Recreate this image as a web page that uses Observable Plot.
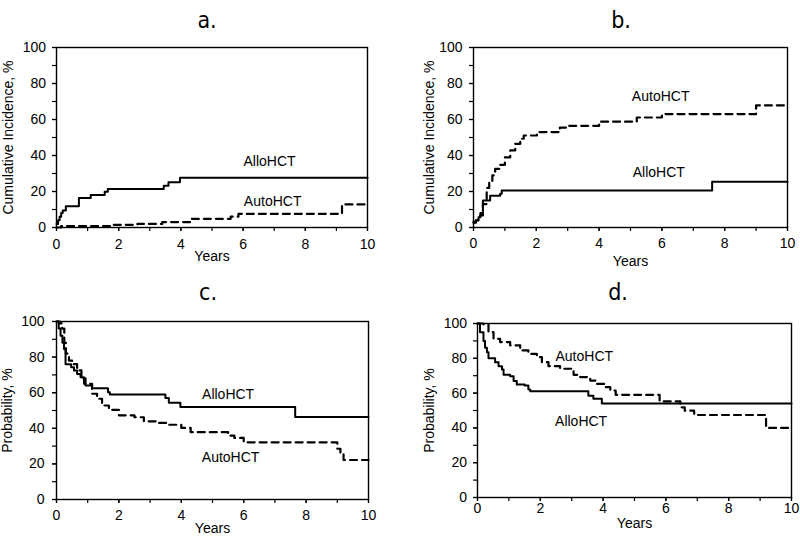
<!DOCTYPE html>
<html><head><meta charset="utf-8">
<script src="https://cdn.jsdelivr.net/npm/d3@7"></script>
<script src="https://cdn.jsdelivr.net/npm/@observablehq/plot@0.6"></script>
<style>
body{margin:0;background:#fff;}
#wrap{position:relative;width:800px;height:538px;overflow:hidden;background:#fff;}
.panel{position:absolute;}
.ttl{position:absolute;font-family:"Liberation Sans Narrow","DejaVu Sans Condensed","Liberation Sans",sans-serif;font-size:23px;color:#000;transform:translate(-50%,-50%);line-height:1;}
</style></head><body><div id="wrap"></div>
<script>
// ---- tick labels ----
const xTickLabels = [0, 2, 4, 6, 8, 10];
const xMinorTicks = [0, 1, 2, 3, 4, 5, 6, 7, 8, 9, 10];
const yTickLabels = [0, 20, 40, 60, 80, 100];
const yMinorTicks = [0, 10, 20, 30, 40, 50, 60, 70, 80, 90, 100];
const panelTitles = ["a.", "b.", "c.", "d."];
const seriesNames = ["AlloHCT", "AutoHCT"];

// ---- panel a: cumulative incidence ----
const aAlloT = [0, 0.05, 0.1, 0.15, 0.2, 0.3, 0.72, 1.1, 1.55, 1.65, 3.45, 3.6, 3.97, 10];
const aAlloV = [2, 4, 6, 8, 9.5, 11.8, 16.4, 18.1, 19.8, 21.4, 23.2, 25.1, 27.6, 27.6];
const aAutoT = [0, 0.15, 1.75, 2.6, 3.4, 4.3, 5.6, 5.85, 9.18, 10];
const aAutoV = [0, 0.8, 1.5, 2, 3, 4.8, 6, 7.6, 12.8, 12.8];

// ---- panel b: cumulative incidence ----
const bAlloT = [0, 0.08, 0.16, 0.22, 0.3, 0.53, 0.85, 0.9, 7.6, 10];
const bAlloV = [2.6, 4, 5.7, 8, 15, 17.6, 18.8, 20.6, 25.4, 25.4];
const bAutoT = [0, 0.07, 0.15, 0.21, 0.3, 0.42, 0.5, 0.6, 0.69, 0.85, 1.0, 1.17, 1.33, 1.49, 1.6, 2.02, 2.75, 3.0, 4.0, 5.2, 6.0, 9.0, 10];
const bAutoV = [3, 3.9, 5, 6.7, 13, 22, 25, 29, 32.6, 34.8, 39, 42.8, 46.5, 49.3, 51.1, 53, 55.5, 56.5, 58.8, 61.1, 63, 67.8, 67.8];

// ---- panel c: probability ----
const cAlloT = [0, 0.07, 0.13, 0.19, 0.24, 0.29, 0.47, 0.56, 0.66, 0.77, 0.88, 0.93, 1.14, 1.65, 1.71, 3.49, 3.6, 3.97, 7.65, 10];
const cAlloV = [100, 96, 92, 88, 84.6, 76, 74.3, 72.5, 70.5, 68.7, 65, 64, 62.5, 60.3, 59, 57, 54.3, 52, 46.3, 46.3];
const cAutoT = [0, 0.1, 0.18, 0.25, 0.3, 0.4, 0.5, 0.66, 0.8, 0.93, 1.14, 1.3, 1.46, 1.68, 2.0, 2.5, 2.8, 3.2, 3.6, 4.0, 4.3, 5.5, 5.7, 6.0, 9.0, 9.1, 9.2, 10];
const cAutoV = [100, 99, 96, 88, 82, 78, 76, 72.5, 68, 65, 59.4, 56.6, 52.8, 50.4, 47.3, 46.2, 43.9, 43, 42, 40.2, 37.8, 35.9, 34.6, 32.1, 28.5, 25.6, 22.2, 22.2];

// ---- panel d: probability ----
const dAlloT = [0, 0.08, 0.19, 0.24, 0.3, 0.35, 0.56, 0.67, 0.78, 0.83, 1.04, 1.15, 1.25, 1.5, 1.62, 1.68, 3.53, 3.69, 3.96, 10];
const dAlloV = [100, 95, 90, 86, 83.5, 80, 77.8, 75.5, 73.5, 70.5, 69.7, 67, 65, 64.4, 62, 61, 58.5, 56.7, 54, 54];
const dAutoT = [0, 0.19, 0.35, 0.51, 0.72, 1.04, 1.36, 1.62, 1.89, 2.05, 2.26, 2.63, 3.06, 3.27, 3.59, 3.8, 4.07, 4.23, 4.4, 5.8, 6.46, 6.6, 6.9, 9.19, 10];
const dAutoV = [100, 99.5, 95, 91.2, 89.3, 87.4, 84.5, 82.6, 80.7, 77.8, 75.5, 74, 70.5, 69.2, 67.2, 65.3, 63.4, 61.5, 59, 55.3, 51.8, 49.9, 47.4, 40, 40];

const zip = (T, V) => T.map((t, i) => ({t, v: V[i]}));
const FONT = "'Liberation Sans', Arial, Helvetica, sans-serif";

function panel(cfg) {
  const chart = Plot.plot({
    width: cfg.w, height: cfg.h,
    marginLeft: cfg.ml, marginRight: cfg.mr, marginTop: cfg.mt, marginBottom: cfg.mb,
    x: {domain: [0, 10]},
    y: {domain: [0, 100]},
    style: {fontFamily: FONT, fontSize: "14px", color: "#000", background: "#fff", overflow: "visible"},
    marks: [
      Plot.axisX(xMinorTicks, {tickSize: 4, tickFormat: () => "", label: null, strokeWidth: 1.2}),
      Plot.axisX(xTickLabels, {tickSize: 4, tickPadding: cfg.xpad, fontSize: 14, label: "Years", labelAnchor: "center", labelOffset: cfg.xlo, labelArrow: "none", strokeWidth: 1.2}),
      Plot.axisY(yMinorTicks, {tickSize: 4, tickFormat: () => "", label: null, strokeWidth: 1.2}),
      Plot.axisY(yTickLabels, {tickSize: 4, tickPadding: cfg.ypad, fontSize: 14, label: cfg.ylabel, labelAnchor: "center", labelOffset: cfg.ylo, labelArrow: "none", strokeWidth: 1.2}),
      Plot.frame({stroke: "#000", strokeWidth: 1.4}),
      Plot.line(zip(cfg.alloT, cfg.alloV), {x: "t", y: "v", curve: "step-after", stroke: "#000", strokeWidth: 2}),
      Plot.line(zip(cfg.autoT, cfg.autoV), {x: "t", y: "v", curve: "step-after", stroke: "#000", strokeWidth: 2.2, strokeDasharray: "7,5"}),
      Plot.text([{x: cfg.alloLab[0], y: cfg.alloLab[1], s: seriesNames[0]}, {x: cfg.autoLab[0], y: cfg.autoLab[1], s: seriesNames[1]}],
        {x: "x", y: "y", text: "s", fontSize: 14, fill: "#000", textAnchor: "middle"})
    ]
  });
  const div = document.createElement("div");
  div.className = "panel";
  div.style.left = cfg.left + "px";
  div.style.top = cfg.top + "px";
  div.appendChild(chart);
  document.getElementById("wrap").appendChild(div);
  const t = document.createElement("div");
  t.className = "ttl";
  t.textContent = cfg.title;
  t.style.left = cfg.tx + "px";
  t.style.top = cfg.ty + "px";
  document.getElementById("wrap").appendChild(t);
}

panel({title: panelTitles[0], tx: 207, ty: 20, left: 0, top: 30, w: 380, h: 240, ml: 56, mr: 13, mt: 17, mb: 43,
  xpad: 8, ypad: 6.5, xlo: 33, ylo: 53, ylabel: "Cumulative Incidence, %",
  alloT: aAlloT, alloV: aAlloV, autoT: aAutoT, autoV: aAutoV, alloLab: [6.85, 36.7], autoLab: [6.95, 14.4]});
panel({title: panelTitles[1], tx: 621, ty: 20, left: 400, top: 30, w: 400, h: 240, ml: 73, mr: 13, mt: 17, mb: 43,
  xpad: 7, ypad: 7, xlo: 38, ylo: 49, ylabel: "Cumulative Incidence, %",
  alloT: bAlloT, alloV: bAlloV, autoT: bAutoT, autoV: bAutoV, alloLab: [5.9, 30.5], autoLab: [5.96, 72.8]});
panel({title: panelTitles[2], tx: 208, ty: 292, left: 0, top: 300, w: 380, h: 238, ml: 56, mr: 12, mt: 21, mb: 39,
  xpad: 7, ypad: 8, xlo: 33, ylo: 54, ylabel: "Probability, %",
  alloT: cAlloT, alloV: cAlloV, autoT: cAutoT, autoV: cAutoV, alloLab: [5.5, 59], autoLab: [5.58, 23.6]});
panel({title: panelTitles[3], tx: 618, ty: 292, left: 400, top: 300, w: 400, h: 238, ml: 77, mr: 9, mt: 23, mb: 41,
  xpad: 1.5, ypad: 6.5, xlo: 30, ylo: 53, ylabel: "Probability, %",
  alloT: dAlloT, alloV: dAlloV, autoT: dAutoT, autoV: dAutoV, alloLab: [3.3, 43.7], autoLab: [3.4, 81]});
</script></body></html>
